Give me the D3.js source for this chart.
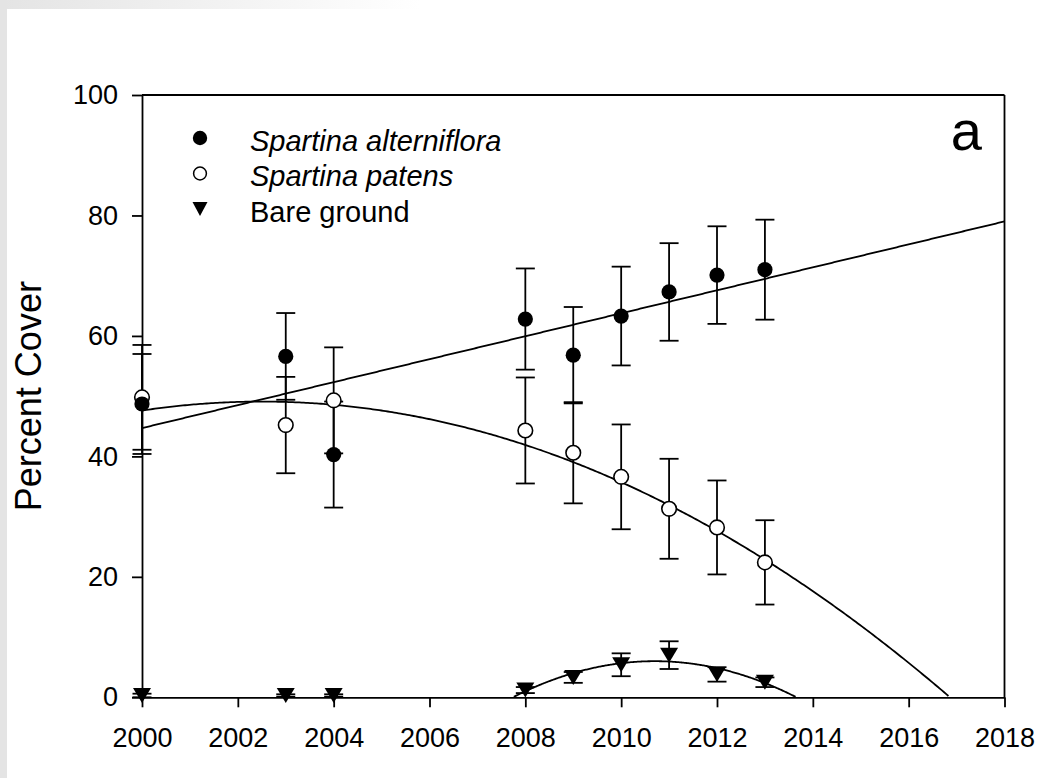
<!DOCTYPE html>
<html>
<head>
<meta charset="utf-8">
<script src="https://cdn.jsdelivr.net/npm/d3@7"></script>
<style>
  html, body { margin: 0; padding: 0; background: #fff; }
  svg { display: block; font-family: "Liberation Sans", Arial, sans-serif; }
</style>
</head>
<body>
<svg id="chart" width="1038" height="778"></svg>
<script>
// ---- data ----
const years      = [2000, 2003, 2004, 2008, 2009, 2010, 2011, 2012, 2013];
const altMean    = [48.7, 56.6, 40.3, 62.8, 56.8, 63.3, 67.3, 70.1, 71.0];
const altSE      = [8.3, 7.2, 8.8, 8.4, 8.0, 8.2, 8.1, 8.1, 8.3];
const patMean    = [49.8, 45.2, 49.3, 44.3, 40.6, 36.6, 31.3, 28.2, 22.4];
const patSE      = [8.7, 8.0, 8.8, 8.8, 8.4, 8.7, 8.3, 7.8, 7.0];
const bareMean   = [0.3, 0.3, 0.3, 1.2, 3.3, 5.4, 7.0, 3.8, 2.5];
const bareSE     = [0.3, 0.2, 0.2, 0.5, 0.9, 1.9, 2.3, 1.2, 0.8];
// regression coefficients, polynomial in (year - 2000)
const altFit     = [44.7, 1.906];
const patFit     = [47.61, 1.19, -0.238];
const bareFit    = [-72.43, 14.659, -0.685];
const xTicks     = [2000, 2002, 2004, 2006, 2008, 2010, 2012, 2014, 2016, 2018];
const yTicks     = [0, 20, 40, 60, 80, 100];
const legendLabels = ["Spartina alterniflora", "Spartina patens", "Bare ground"];
const panelLabel = "a";
const yTitle = "Percent Cover";

// ---- layout ----
const svg = d3.select("#chart");
const pLeft = 142, pRight = 1004.5, pTop = 95, pBottom = 697.3;
const x = d3.scaleLinear().domain([2000, 2018]).range([pLeft, pRight]);
const y = d3.scaleLinear().domain([0, 100]).range([pBottom, pTop]);
const fontSize = 27;
const sw = 1.8;

// background decorations (grey frame edge)
const defs = svg.append("defs");
const grad = defs.append("linearGradient").attr("id", "topgrad").attr("x1", 0).attr("x2", 1).attr("y1", 0).attr("y2", 0);
grad.append("stop").attr("offset", "0%").attr("stop-color", "#e4e4e4");
grad.append("stop").attr("offset", "100%").attr("stop-color", "#ffffff");
svg.append("rect").attr("x", 0).attr("y", 0).attr("width", 420).attr("height", 9).attr("fill", "url(#topgrad)");
svg.append("rect").attr("x", 0).attr("y", 0).attr("width", 7).attr("height", 778).attr("fill", "#e4e4e4");

defs.append("clipPath").attr("id", "plotclip").append("rect")
  .attr("x", pLeft).attr("y", pTop).attr("width", pRight - pLeft).attr("height", pBottom - pTop);

// ---- axes ----
const yAxis = d3.axisLeft(y).tickValues(yTicks).tickSize(10).tickSizeOuter(0).tickPadding(14);
const gy = svg.append("g").attr("transform", `translate(${pLeft},0)`).call(yAxis);
const xAxis = d3.axisBottom(x).tickValues(xTicks).tickFormat(d3.format("d")).tickSize(10).tickSizeOuter(0).tickPadding(21);
const gx = svg.append("g").attr("transform", `translate(0,${pBottom})`).call(xAxis);
[gx, gy].forEach(g => {
  g.selectAll("path.domain").attr("stroke", "#000").attr("stroke-width", sw);
  g.selectAll(".tick line").attr("stroke", "#000").attr("stroke-width", sw);
  g.selectAll(".tick text").attr("fill", "#000").style("font-size", fontSize + "px")
    .style("font-family", '"Liberation Sans", Arial, sans-serif');
});
// frame top and right
svg.append("line").attr("x1", pLeft).attr("x2", pRight).attr("y1", y(100)).attr("y2", y(100))
  .attr("stroke", "#000").attr("stroke-width", sw);
svg.append("line").attr("x1", pRight).attr("x2", pRight).attr("y1", y(100)).attr("y2", y(0))
  .attr("stroke", "#000").attr("stroke-width", sw);

// y title
svg.append("text").attr("transform", `translate(41,${(pTop + pBottom) / 2}) rotate(-90)`)
  .attr("text-anchor", "middle").style("font-size", "36px").attr("fill", "#000").text(yTitle);

// panel label
svg.append("text").attr("x", 982).attr("y", 150).attr("text-anchor", "end")
  .style("font-size", "56px").attr("fill", "#000").text(panelLabel);

// ---- fit curves ----
const plot = svg.append("g").attr("clip-path", "url(#plotclip)");
function poly(c, t) { return c.reduce((s, v, i) => s + v * Math.pow(t, i), 0); }
function curvePoints(c, t0, t1) {
  const pts = [];
  const n = 400;
  for (let i = 0; i <= n; i++) {
    const t = t0 + (t1 - t0) * i / n;
    const v = poly(c, t);
    if (v >= 0) pts.push([2000 + t, v]);
  }
  return pts;
}
const line = d3.line().x(d => x(d[0])).y(d => y(d[1]));
[[altFit, 0, 18], [patFit, 0, 18], [bareFit, 7, 15]].forEach(([c, t0, t1]) => {
  plot.append("path").attr("d", line(curvePoints(c, t0, t1)))
    .attr("fill", "none").attr("stroke", "#000").attr("stroke-width", sw);
});

// ---- error bars ----
const capHalf = 9.5;
function errorBars(means, ses) {
  const g = svg.append("g").attr("stroke", "#000").attr("stroke-width", sw);
  years.forEach((yr, i) => {
    const cx = x(yr), hi = y(means[i] + ses[i]), lo = y(Math.max(0, means[i] - ses[i]));
    g.append("line").attr("x1", cx).attr("x2", cx).attr("y1", hi).attr("y2", lo);
    g.append("line").attr("x1", cx - capHalf).attr("x2", cx + capHalf).attr("y1", hi).attr("y2", hi);
    g.append("line").attr("x1", cx - capHalf).attr("x2", cx + capHalf).attr("y1", lo).attr("y2", lo);
  });
}
errorBars(bareMean, bareSE);
errorBars(patMean, patSE);
errorBars(altMean, altSE);

// ---- markers ----
const triPath = (cx, cy, w, h) => `M${cx - w / 2},${cy - h / 2}L${cx + w / 2},${cy - h / 2}L${cx},${cy + h / 2}Z`;
svg.append("g").selectAll("path").data(years).join("path")
  .attr("d", (d, i) => triPath(x(d), y(bareMean[i]), 18, 15)).attr("fill", "#000");
svg.append("g").selectAll("circle").data(years).join("circle")
  .attr("cx", d => x(d)).attr("cy", (d, i) => y(patMean[i])).attr("r", 7.3)
  .attr("fill", "#fff").attr("stroke", "#000").attr("stroke-width", 1.6);
svg.append("g").selectAll("circle").data(years).join("circle")
  .attr("cx", d => x(d)).attr("cy", (d, i) => y(altMean[i])).attr("r", 7.6)
  .attr("fill", "#000");

// ---- legend ----
const lg = svg.append("g");
const lx = 200, ly0 = 138, ldy = 35.5;
lg.append("circle").attr("cx", lx).attr("cy", ly0).attr("r", 7.2).attr("fill", "#000");
lg.append("circle").attr("cx", lx).attr("cy", ly0 + ldy).attr("r", 6.4).attr("fill", "#fff").attr("stroke", "#000").attr("stroke-width", 1.5);
lg.append("path").attr("d", triPath(lx, ly0 + 2 * ldy, 15, 14)).attr("fill", "#000");
legendLabels.forEach((t, i) => {
  lg.append("text").attr("x", 250).attr("y", ly0 + i * ldy + 12.5)
    .style("font-size", "29px").style("font-style", i < 2 ? "italic" : "normal")
    .attr("fill", "#000").text(t);
});
</script>
</body>
</html>
